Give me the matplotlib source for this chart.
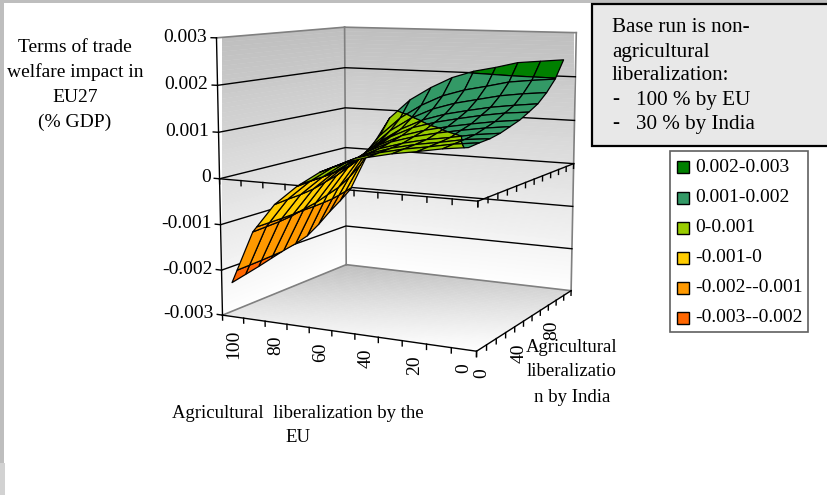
import numpy as np
import matplotlib
matplotlib.use('Agg')
import matplotlib.pyplot as plt
from matplotlib.patches import Rectangle
from mpl_toolkits.mplot3d import proj3d
from mpl_toolkits.mplot3d.art3d import Poly3DCollection

plt.rcParams['font.family'] = ['Liberation Serif', 'DejaVu Serif']

eu_levels = [100, 90, 80, 70, 60, 50, 40, 30, 20, 10, 0]
india_levels = [0, 10, 20, 30, 40, 50, 60, 70, 80, 90, 100]

# welfare impact, one list per India level, values in the order of eu_levels
india_0 = [-2.29, -1.12, -0.48, -0.05, 0.29, 0.52, 0.67, 0.78, 0.86, 0.95, 1.01]
india_10 = [-2.22, -1.10, -0.45, -0.02, 0.32, 0.55, 0.70, 0.81, 0.89, 0.98, 1.04]
india_20 = [-2.15, -1.08, -0.43, 0.00, 0.34, 0.57, 0.73, 0.84, 0.92, 1.01, 1.06]
india_30 = [-2.07, -1.04, -0.39, 0.04, 0.38, 0.62, 0.77, 0.88, 0.96, 1.05, 1.11]
india_40 = [-1.99, -0.97, -0.31, 0.12, 0.46, 0.70, 0.85, 0.96, 1.05, 1.13, 1.19]
india_50 = [-1.93, -0.91, -0.23, 0.20, 0.54, 0.78, 0.93, 1.04, 1.13, 1.21, 1.27]
india_60 = [-1.84, -0.81, -0.12, 0.33, 0.66, 0.90, 1.05, 1.16, 1.26, 1.34, 1.39]
india_70 = [-1.66, -0.71, 0.00, 0.45, 0.78, 1.02, 1.18, 1.29, 1.39, 1.46, 1.52]
india_80 = [-1.44, -0.54, 0.20, 0.65, 0.98, 1.22, 1.38, 1.49, 1.60, 1.67, 1.72]
india_90 = [-1.25, -0.33, 0.44, 0.90, 1.23, 1.48, 1.64, 1.75, 1.87, 1.93, 1.98]
india_100 = [-1.04, 0.00, 0.82, 1.29, 1.61, 1.87, 2.04, 2.15, 2.28, 2.33, 2.38]

z_ticks = [0.003, 0.002, 0.001, 0, -0.001, -0.002, -0.003]
z_tick_labels = ['0.003', '0.002', '0.001', '0', '-0.001', '-0.002', '-0.003']
eu_labels = [100, 80, 60, 40, 20, 0]
india_labels = [0, 40, 80]

band_edges = [0.003, 0.002, 0.001, 0, -0.001, -0.002, -0.003]
band_labels = ['0.002-0.003', '0.001-0.002', '0-0.001', '-0.001-0', '-0.002--0.001', '-0.003--0.002']
band_colors = ['#008000', '#339966', '#99CC00', '#FFCC00', '#FF9900', '#FF6600']

z_table = np.array([india_0, india_10, india_20, india_30, india_40, india_50,
                    india_60, india_70, india_80, india_90, india_100]) / 1000.0

W, H = 827, 495
fig = plt.figure(figsize=(W / 100, H / 100), dpi=100)
# view numbers fitted to the wall corners of the picture
ax = fig.add_axes([0.2689, 0.2896, 0.4256, 0.711], projection='3d', computed_zorder=False)
ax.set_xlim(0, 11, view_margin=0)
ax.set_ylim(0, 11, view_margin=0)
ax.set_zlim(-0.003, 0.003, view_margin=0)
ax.view_init(elev=8.8311, azim=-63.1687)
ax.set_proj_type('persp', focal_length=0.6929)
ax.set_box_aspect((1, 0.9125, 0.9974), zoom=1.2576)
ax.set_axis_off()


def grey(t):
    v = 0.745 + (1 - 0.745) * t
    return (v, v, v)


# wall gradients
zs = np.linspace(-0.003, 0.003, 61)
wall_polys, wall_cols = [], []
for a, b in zip(zs[:-1], zs[1:]):
    col = grey((0.003 - (a + b) / 2) / 0.006)
    wall_polys.append([(0, 0, a), (0, 11, a), (0, 11, b), (0, 0, b)])
    wall_polys.append([(0, 11, a), (11, 11, a), (11, 11, b), (0, 11, b)])
    wall_cols += [col, col]
ax.add_collection3d(Poly3DCollection(wall_polys, facecolors=wall_cols, edgecolors=wall_cols,
                                     linewidths=0.3, zorder=1))

# floor gradient
cells = np.linspace(0, 11, 41)
floor_polys, floor_cols = [], []
for xa, xb in zip(cells[:-1], cells[1:]):
    for ya, yb in zip(cells[:-1], cells[1:]):
        tt = (0.3 * (xa + xb) / 22 + 0.57 * (1 - (ya + yb) / 22)) / 0.87
        floor_polys.append([(xa, ya, -0.003), (xb, ya, -0.003), (xb, yb, -0.003), (xa, yb, -0.003)])
        floor_cols.append(grey(tt))
ax.add_collection3d(Poly3DCollection(floor_polys, facecolors=floor_cols, edgecolors=floor_cols,
                                     linewidths=0.3, zorder=1))

# wall outlines in grey
for line in [([0, 0], [11, 11], [-0.003, 0.003]), ([0, 11], [11, 11], [0.003, 0.003]),
             ([0, 0], [0, 11], [0.003, 0.003]), ([11, 11], [11, 11], [-0.003, 0.003]),
             ([0, 0], [0, 11], [-0.003, -0.003]), ([0, 11], [11, 11], [-0.003, -0.003])]:
    ax.plot(*line, color='#808080', lw=1.2, zorder=2, clip_on=False)

# gridlines on both walls
for z in z_ticks[1:-1]:
    ax.plot([0, 0, 11], [0, 11, 11], [z, z, z], color='black', lw=1.0, zorder=2, clip_on=False)

# value axis on the left corner
ax.plot([0, 0], [0, 0], [-0.003, 0.003], color='black', lw=1.0, zorder=2, clip_on=False)
for z in z_ticks:
    ax.plot([0, -0.25], [0, 0], [z, z], color='black', lw=1.0, zorder=2, clip_on=False)

# axis lines with ticks: on the floor and again on the zero plane
for z in (-0.003, 0):
    ax.plot([0, 11, 11], [0, 0, 11], [z, z, z], color='black', lw=1.0, zorder=2, clip_on=False)
    for v in range(12):
        ax.plot([v, v], [0, 0], [z, z - 0.00011], color='black', lw=1.0, zorder=2, clip_on=False)
        ax.plot([11, 11], [v, v], [z, z - 0.00011], color='black', lw=1.0, zorder=2, clip_on=False)


def clip_z(poly, level, keep_above):
    out = []
    for j in range(len(poly)):
        a, b = poly[j], poly[(j + 1) % len(poly)]
        ina = a[2] >= level if keep_above else a[2] <= level
        inb = b[2] >= level if keep_above else b[2] <= level
        if ina:
            out.append(a)
        if ina != inb:
            f = (level - a[2]) / (b[2] - a[2])
            out.append((a[0] + f * (b[0] - a[0]), a[1] + f * (b[1] - a[1]), level))
    return out


# surface cut along the colour bands, it nearly fills the floor
xpos = 0.3 + np.arange(len(eu_levels)) * 1.02
ypos = 0.3 + np.arange(len(india_levels)) * 1.06
polys, cols = [], []
for r in range(len(india_levels) - 1):
    for c in range(len(eu_levels) - 1):
        quad = [(xpos[c], ypos[r], z_table[r, c]), (xpos[c + 1], ypos[r], z_table[r, c + 1]),
                (xpos[c + 1], ypos[r + 1], z_table[r + 1, c + 1]), (xpos[c], ypos[r + 1], z_table[r + 1, c])]
        for col, hi, lo in zip(band_colors, band_edges[:-1], band_edges[1:]):
            part = clip_z(clip_z(quad, lo, True), hi, False)
            if len(part) >= 3:
                polys.append(part)
                cols.append(col)
ax.add_collection3d(Poly3DCollection(polys, facecolors=cols, edgecolors='black', linewidths=0.9, zorder=3))

# flat things in pixel coordinates
ov = fig.add_axes([0, 0, 1, 1], zorder=10)
ov.set_xlim(0, W)
ov.set_ylim(H, 0)
ov.axis('off')


# Text3D flips its angle near vertical, so axis labels go on the flat axes
def axis_label(x, y, z, text, **kw):
    px, py, _ = proj3d.proj_transform(x, y, z, ax.get_proj())
    dx, dy = ax.transData.transform((px, py))
    ov.text(dx, H - dy, text, fontsize=14, **kw)


for z, lab in zip(z_ticks, z_tick_labels):
    axis_label(-0.42, 0, z, lab, ha='right', va='center')
for e in eu_labels:
    axis_label(eu_levels.index(e) + 0.5, 0, -0.00328, str(e), rotation=90, ha='center', va='top')
for i in india_labels:
    axis_label(11, india_levels.index(i) + 0.5, -0.00342, str(i), rotation=90, ha='center', va='top')

ov.add_patch(Rectangle((0, 0), 4, 463, color='#BEBEBE', lw=0))
ov.add_patch(Rectangle((0, 463), 5, 32, color='#D2D2D2', lw=0))
ov.add_patch(Rectangle((0, 0), W, 2.5, color='#BEBEBE', lw=0))

ov.add_patch(Rectangle((592, 3.5), 240, 142.5, facecolor='#E8E8E8', edgecolor='black', lw=1.6))
for y, line in zip([27, 52, 76], ['Base run is non-', 'agricultural', 'liberalization:']):
    ov.text(612, y, line, fontsize=15.2, va='center')
for y, line in zip([100, 124], ['100 % by EU', '30 % by India']):
    ov.text(612, y, '-', fontsize=15.2, va='center')
    ov.text(636, y, line, fontsize=15.2, va='center')

ov.add_patch(Rectangle((670, 150.5), 138, 181, facecolor='white', edgecolor='#606060', lw=1.2))
for y, lab, col in zip([167, 198, 228, 258, 288, 318], band_labels, band_colors):
    ov.add_patch(Rectangle((677, y - 6), 12, 12, facecolor=col, edgecolor='black', lw=1.0))
    ov.text(695, y, lab, fontsize=14, va='center')

for y, line in zip([47, 72, 97, 122], ['Terms of trade', 'welfare impact in', 'EU27', '(% GDP)']):
    ov.text(75, y, line, fontsize=14, ha='center', va='center')
for y, line in zip([413, 438], ['Agricultural  liberalization by the', 'EU']):
    ov.text(298, y, line, fontsize=13.5, ha='center', va='center')
for y, line in zip([347, 372, 397], ['Agricultural', 'liberalizatio', 'n by India']):
    ov.text(572, y, line, fontsize=13.5, ha='center', va='center')

fig.savefig('out.png', dpi=100)
